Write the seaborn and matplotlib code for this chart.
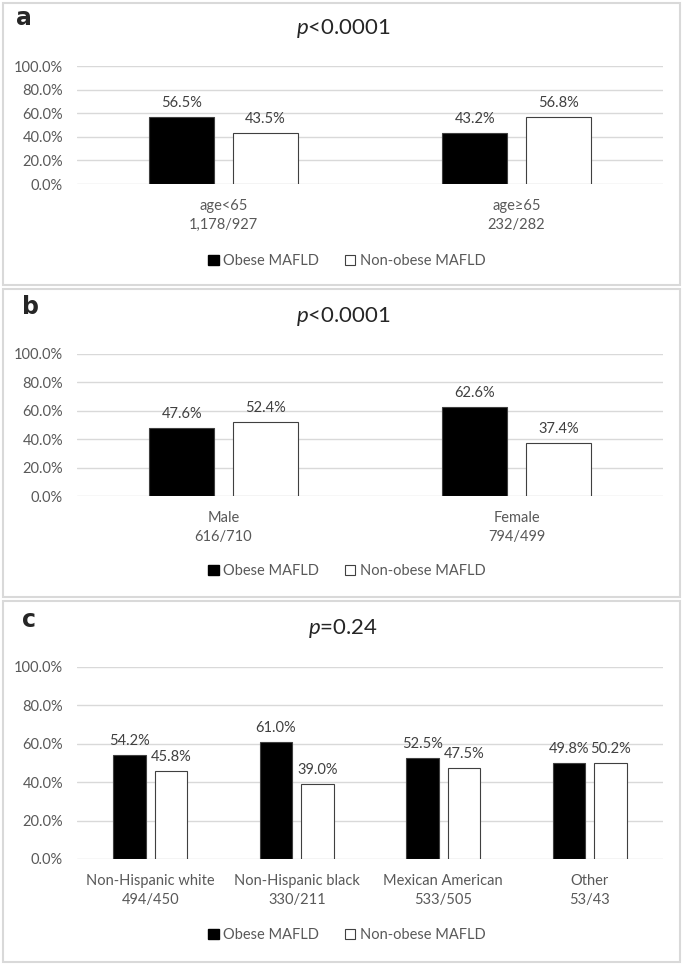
import pandas as pd
import matplotlib.pyplot as plt
import seaborn as sns
from matplotlib.patches import Patch, Rectangle

# data for the three panels
status = ['Obese MAFLD', 'Non-obese MAFLD']

age_groups = ['age<65\n1,178/927', 'age≥65\n232/282']
age_obese = [56.5, 43.2]
age_nonobese = [43.5, 56.8]

sex_groups = ['Male\n616/710', 'Female\n794/499']
sex_obese = [47.6, 62.6]
sex_nonobese = [52.4, 37.4]

race_groups = ['Non-Hispanic white\n494/450', 'Non-Hispanic black\n330/211',
               'Mexican American\n533/505', 'Other\n53/43']
race_obese = [54.2, 61.0, 52.5, 49.8]
race_nonobese = [45.8, 39.0, 47.5, 50.2]

p_labels = ['<0.0001', '<0.0001', '=0.24']
panel_letters = ['a', 'b', 'c']

sns.set_style('white')
plt.rcParams['font.family'] = ['Lato', 'DejaVu Sans']
plt.rcParams['mathtext.fontset'] = 'custom'
plt.rcParams['mathtext.it'] = 'Lato:italic'
plt.rcParams['mathtext.rm'] = 'Lato'

W, H = 685, 965
fig = plt.figure(figsize=(W / 100, H / 100), dpi=100)

def fy(px):
    return 1 - px / H

# (box top, box bottom, axes top, axes bottom, letter x, letter y, title y, legend y)
layout = [(3, 285, 66, 184, 24, 18, 29, 261),
          (289, 597, 354, 496, 30, 307, 317, 571),
          (601, 962, 667, 859, 29, 620, 628, 935)]

panels = [(age_groups, age_obese, age_nonobese),
          (sex_groups, sex_obese, sex_nonobese),
          (race_groups, race_obese, race_nonobese)]

gray_txt = '#595959'
for i, (groups, ob, nob) in enumerate(panels):
    btop, bbot, atop, abot, lx, ly, ty, legy = layout[i]
    # light panel frame
    fig.patches.append(Rectangle((3 / W, fy(bbot)), 677 / W, (bbot - btop) / H,
                                 transform=fig.transFigure, fill=False,
                                 edgecolor='#d9d9d9', lw=1.5))
    ax = fig.add_axes([77 / W, fy(abot), 586 / W, (abot - atop) / H])
    df = pd.DataFrame({'group': groups * 2,
                       'pct': ob + nob,
                       'status': [status[0]] * len(groups) + [status[1]] * len(groups)})
    sns.barplot(data=df, x='group', y='pct', hue='status', palette=['black', 'white'],
                width=0.57, gap=0.22, edgecolor='#404040', linewidth=0.8,
                legend=False, ax=ax)
    for cont in ax.containers:
        ax.bar_label(cont, labels=[f'{b.get_height():.1f}%' for b in cont],
                     padding=5, fontsize=10.5, color='#404040')
    ax.set_ylim(0, 100)
    ax.set_yticks(range(0, 101, 20))
    ax.set_yticklabels([f'{t:.1f}%' for t in range(0, 101, 20)])
    ax.yaxis.grid(True, color='#d9d9d9', lw=1)
    ax.set_axisbelow(True)
    for s in ax.spines.values():
        s.set_visible(False)
    ax.tick_params(axis='both', length=0, labelsize=10.5, labelcolor=gray_txt)
    ax.tick_params(axis='x', pad=11)
    ax.tick_params(axis='y', pad=10)
    for lab in ax.get_xticklabels():
        lab.set_linespacing(1.45)
    ax.set_xlabel('')
    ax.set_ylabel('')
    fig.text(lx / W, fy(ly), panel_letters[i], fontsize=17, fontweight='bold',
             family='DejaVu Sans', ha='center', va='center')
    fig.text(343 / W, fy(ty), r'$\mathit{p}$' + p_labels[i], fontsize=16,
             ha='center', va='center')
    handles = [Patch(facecolor='black', edgecolor='black'),
               Patch(facecolor='white', edgecolor='#404040', lw=0.8)]
    fig.legend(handles, status, loc='center', bbox_to_anchor=(347 / W, fy(legy)),
               ncol=2, frameon=False, fontsize=10.5, handlelength=0.7,
               handleheight=0.7, handletextpad=0.3, columnspacing=1.8,
               labelcolor=gray_txt)

fig.savefig('out.png', dpi=100)
